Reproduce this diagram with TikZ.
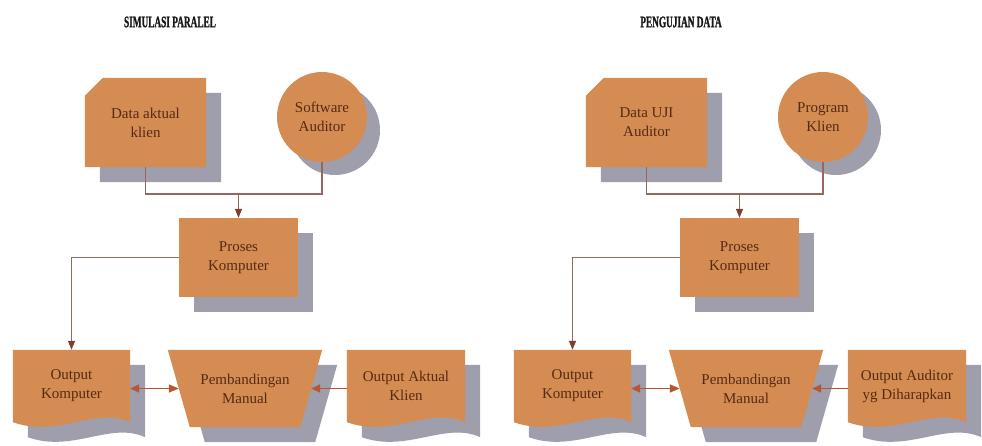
\documentclass[tikz,border=0pt]{standalone}
\usepackage{fontspec}
\setmainfont{Liberation Serif}
\newfontfamily\headfont[FakeBold=1.6]{Liberation Serif}
\usetikzlibrary{arrows.meta,calc,backgrounds}

\definecolor{boxfill}{RGB}{212,140,82}
\definecolor{shade}{RGB}{158,158,172}
\definecolor{wire}{RGB}{148,104,92}
\definecolor{tipcol}{RGB}{125,64,45}
\definecolor{pair}{RGB}{182,86,52}
\definecolor{ink}{RGB}{85,42,20}

\tikzset{
  txt/.style={inner sep=0pt, align=center, text=ink,
    font=\fontsize{15}{19}\selectfont},
  heading/.style={inner sep=0pt, text=black!90,
    font=\headfont\bfseries\fontsize{16}{18}\selectfont},
  withshadow/.style={preaction={fill=shade,
    transform canvas={xshift=#1, yshift=-#1}}},
  withshadow/.default=15pt,
  wire/.style={draw=wire, line width=1.4pt},
  flow/.style={wire, -{Triangle[length=9pt,width=7pt,color=tipcol]}},
  both/.style={draw=pair, line width=1.6pt,
    {Triangle[length=9pt,width=8pt,color=pair]}-{Triangle[length=10pt,width=8pt,color=pair]}},
  back/.style={draw=pair, line width=1.6pt,
    -{Triangle[length=9pt,width=8pt,color=pair]}}
}

% card, circle, box, document and manual-operation outlines drawn behind a node
\newcommand\cardshape[1]{\fill[boxfill, withshadow] ($(#1.north west)+(0,18)$) -- ($(#1.north west)+(18,0)$)
  -- (#1.north east) -- (#1.south east) -- (#1.south west) -- cycle;}
\newcommand\discshape[1]{\fill[boxfill, withshadow=13pt] (#1.center) circle (45pt);}
\newcommand\boxshape[1]{\fill[boxfill, withshadow] (#1.north west) rectangle (#1.south east);}
\newcommand\docshape[1]{\fill[boxfill, withshadow] (#1.north west) -- (#1.north east) -- (#1.south east)
  .. controls ($(#1.south east)+(-35,-16)$) and ($(#1.south west)+(45,16)$) .. (#1.south west) -- cycle;}
\newcommand\manualshape[1]{\fill[boxfill, withshadow] (#1.north west) -- (#1.north east)
  -- ($(#1.south east)+(-22,0)$) -- ($(#1.south west)+(22,0)$) -- cycle;}

\begin{document}
\begin{tikzpicture}[x=1pt, y=-1pt]
\useasboundingbox (0,0) rectangle (982,445);

% ---------- Simulasi paralel ----------
\node[heading] (t1) at (170,22) {\scalebox{0.58}[1]{SIMULASI PARALEL}};
\node[txt, minimum width=121pt, minimum height=89pt] (d1) at (145.5,122.5) {Data aktual\\klien};
\node[txt, circle, minimum size=90pt] (s1) at (322,117) {Software\\Auditor};
\node[txt, minimum width=119pt, minimum height=79pt] (p1) at (238.5,257.5) {Proses\\Komputer};
\node[txt, minimum width=117pt, minimum height=72pt] (o1) at (71.5,386) {Output\\Komputer};
\node[txt, minimum width=154pt, minimum height=77pt] (m1) at (245,388.5) {Pembandingan\\Manual};
\node[txt, minimum width=118pt, minimum height=72pt] (a1) at (406,386) {Output Aktual\\Klien};

% ---------- Pengujian data ----------
\node[heading] (t2) at (681,22) {\scalebox{0.58}[1]{PENGUJIAN DATA}};
\node[txt, minimum width=121pt, minimum height=89pt] (d2) at (646.5,122.5) {Data UJI\\Auditor};
\node[txt, circle, minimum size=90pt] (s2) at (823,117) {Program\\Klien};
\node[txt, minimum width=119pt, minimum height=79pt] (p2) at (739.5,257.5) {Proses\\Komputer};
\node[txt, minimum width=117pt, minimum height=72pt] (o2) at (572.5,386) {Output\\Komputer};
\node[txt, minimum width=154pt, minimum height=77pt] (m2) at (746,388.5) {Pembandingan\\Manual};
\node[txt, minimum width=118pt, minimum height=72pt] (a2) at (907,386) {Output Auditor\\yg Diharapkan};

\begin{scope}[on background layer]
  \cardshape{d1} \discshape{s1} \boxshape{p1} \docshape{o1} \manualshape{m1} \docshape{a1}
  \cardshape{d2} \discshape{s2} \boxshape{p2} \docshape{o2} \manualshape{m2} \docshape{a2}
\end{scope}

% connectors
\foreach \k in {1,2}{
  \coordinate (j\k) at ($(p\k.north)+(0,-24)$);
  \draw[wire] (d\k.south) |- (j\k) -| (s\k.south);
  \draw[flow] (j\k) -- (p\k.north);
  \draw[flow] (p\k.west) -| (o\k.north);
  \draw[both] (o\k.east |- m\k.west) -- ($(m\k.west)+(11,0)$);
  \draw[back] (a\k.west |- m\k.east) -- ($(m\k.east)+(-11,0)$);
}
\end{tikzpicture}
\end{document}
